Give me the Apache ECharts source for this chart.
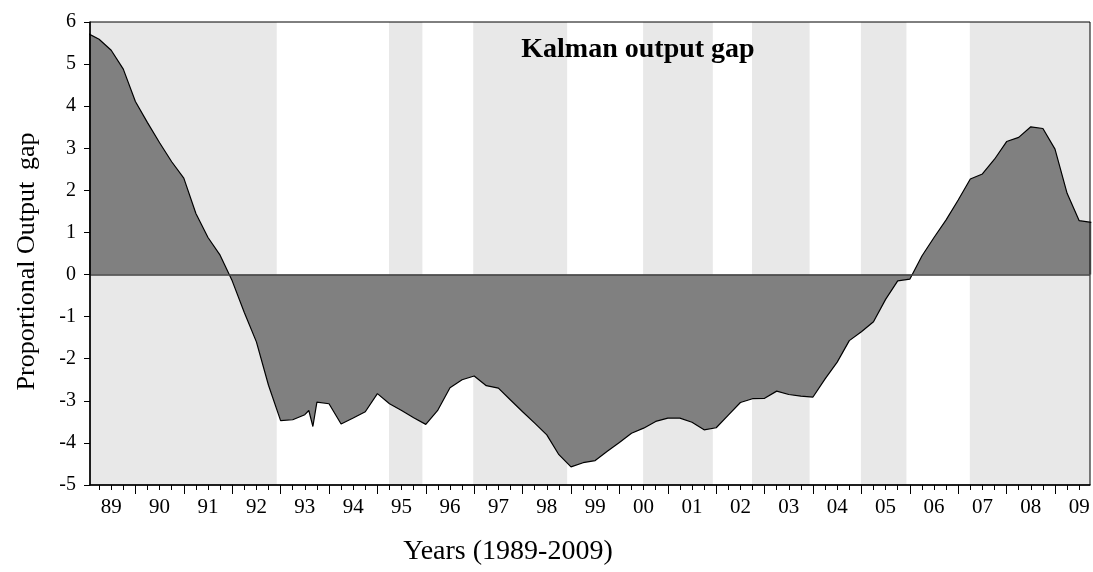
<!DOCTYPE html>
<html>
<head>
<meta charset="utf-8">
<script src="https://cdn.jsdelivr.net/npm/echarts@6/dist/echarts.min.js"></script>
<style>
  html, body { margin: 0; padding: 0; background: #fff; }
  #chart { width: 1093px; height: 572px; }
</style>
</head>
<body>
<div id="chart"></div>
<script>
// quarterly Kalman output gap, 1989Q1 .. 2009Q4
var startYear = 1989;
var quarterlyGap = [
  5.74, 5.59, 5.33, 4.88, 4.11, 3.61, 3.13, 2.68, 2.29, 1.45,
  0.88, 0.46, -0.15, -0.90, -1.60, -2.63, -3.47, -3.45, -3.33, -3.03,
  -3.07, -3.55, -3.41, -3.26, -2.83, -3.07, -3.23, -3.40, -3.56, -3.22,
  -2.69, -2.50, -2.41, -2.64, -2.70, -2.98, -3.26, -3.53, -3.81, -4.28,
  -4.57, -4.47, -4.42, -4.20, -3.99, -3.77, -3.65, -3.49, -3.41, -3.41,
  -3.51, -3.69, -3.64, -3.34, -3.04, -2.95, -2.94, -2.77, -2.85, -2.89,
  -2.91, -2.48, -2.08, -1.57, -1.36, -1.12, -0.59, -0.15, -0.11, 0.44,
  0.88, 1.30, 1.77, 2.27, 2.39, 2.74, 3.16, 3.26, 3.51, 3.47,
  2.98, 1.93, 1.28, 1.24
];
// the short monthly blip in mid 1993
var blipDates = [1993.583, 1993.667];
var blipGap = [-3.23, -3.61];

// shaded periods (decimal years)
var bandStart = [1989.0, 1995.24, 1996.98, 2000.49, 2002.74, 2004.99, 2007.24];
var bandEnd = [1992.92, 1995.93, 1998.92, 2001.93, 2003.93, 2005.93, 2009.75];

var yearLabels = ['89','90','91','92','93','94','95','96','97','98','99',
                  '00','01','02','03','04','05','06','07','08','09'];

var xMin = 1989.062, xMax = 2009.723;
var serif = 'Liberation Serif, Times New Roman, serif';

var points = [];
for (var i = 0; i < quarterlyGap.length; i++) {
  points.push([startYear + i / 4, quarterlyGap[i]]);
}
for (var j = 0; j < blipDates.length; j++) {
  points.push([blipDates[j], blipGap[j]]);
}
points.sort(function(a, b) { return a[0] - b[0]; });

var quarterTicks = [], yearTicks = [], labelPos = [];
for (var k = 0; k < yearLabels.length; k++) {
  var y = startYear + k;
  yearTicks.push(y);
  labelPos.push(y + 0.5);
  for (var q = 0; q < 4; q++) quarterTicks.push(y + q / 4);
}
function inRange(v) { return v >= xMin && v <= xMax; }
quarterTicks = quarterTicks.filter(inRange);
yearTicks = yearTicks.filter(inRange);

var bands = [];
for (var b = 0; b < bandStart.length; b++) {
  bands.push([{ xAxis: bandStart[b] }, { xAxis: bandEnd[b] }]);
}

var myChart = echarts.init(document.getElementById('chart'));
var option = {
  backgroundColor: '#fff',
  animation: false,
  title: {
    text: 'Kalman output gap',
    left: 633,
    top: 31,
    textAlign: 'center',
    textStyle: { fontFamily: serif, fontWeight: 'bold', fontSize: 28, color: '#000' }
  },
  grid: {
    left: 90, right: 3, top: 22, bottom: 87, z: 5,
    show: true, borderColor: '#000', borderWidth: 1, backgroundColor: 'transparent'
  },
  xAxis: [{
    type: 'value',
    z: 6,
    min: xMin, max: xMax,
    name: 'Years (1989-2009)',
    nameLocation: 'middle',
    nameGap: 53,
    nameTextStyle: { fontFamily: serif, fontSize: 28, color: '#000', padding: [0, 164, 0, 0] },
    axisLine: { show: true, onZero: false, lineStyle: { color: '#000', width: 1.5 } },
    axisTick: { show: true, customValues: quarterTicks, length: 5, lineStyle: { color: '#000' } },
    axisLabel: {
      show: true, customValues: labelPos, margin: 12,
      fontFamily: serif, fontSize: 21, color: '#000',
      formatter: function(v) { return yearLabels[Math.round(v - 0.5) - startYear]; }
    },
    splitLine: { show: false }
  }, {
    type: 'value',
    z: 6,
    min: xMin, max: xMax,
    position: 'bottom',
    axisLine: { show: false, onZero: false },
    axisTick: { show: true, customValues: yearTicks, length: 9, lineStyle: { color: '#000' } },
    axisLabel: { show: false },
    splitLine: { show: false }
  }],
  yAxis: {
    type: 'value',
    z: 6,
    min: -5, max: 6, interval: 1,
    name: 'Proportional Output\u2009 gap',
    nameLocation: 'middle',
    nameGap: 50,
    nameTextStyle: { fontFamily: serif, fontSize: 26, color: '#000', padding: [0, 16, 0, 0] },
    axisLine: { show: true, onZero: false, lineStyle: { color: '#000', width: 1.5 } },
    axisTick: { show: true, length: 6, lineStyle: { color: '#000' } },
    axisLabel: { fontFamily: serif, fontSize: 20, color: '#000', margin: 14 },
    splitLine: { show: false }
  },
  series: [{
    name: 'bands',
    type: 'line',
    z: 1,
    data: [],
    silent: true,
    markArea: {
      silent: true,
      itemStyle: { color: '#e8e8e8' },
      data: bands
    }
  }, {
    name: 'Kalman output gap',
    type: 'line',
    z: 3,
    data: points,
    showSymbol: false,
    symbol: 'none',
    lineStyle: { color: '#000', width: 1.2 },
    areaStyle: { color: '#808080', opacity: 1, origin: 0 },
    markLine: {
      silent: true,
      symbol: 'none',
      label: { show: false },
      lineStyle: { color: '#404040', width: 1.5, type: 'solid' },
      data: [{ yAxis: 0 }]
    }
  }]
};
myChart.setOption(option);
</script>
</body>
</html>
